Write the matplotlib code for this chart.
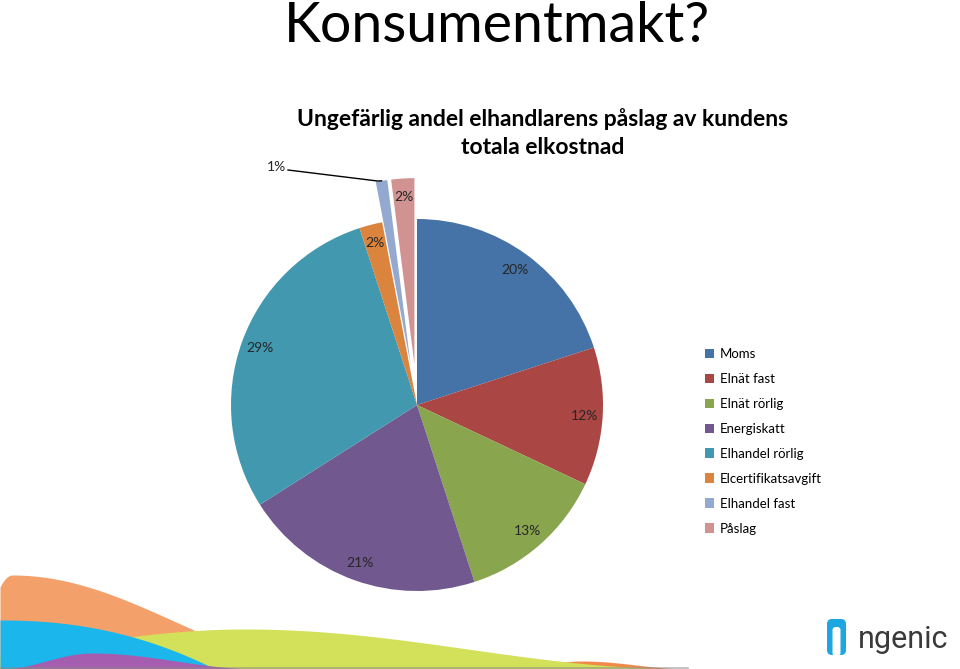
import matplotlib.pyplot as plt
import numpy as np
from matplotlib.patches import FancyBboxPatch

# data
labels = ['Moms', 'Elnät fast', 'Elnät rörlig', 'Energiskatt', 'Elhandel rörlig',
          'Elcertifikatsavgift', 'Elhandel fast', 'Påslag']
shares = [20, 12, 13, 21, 29, 2, 1, 2]
colors = ['#4572A7', '#AA4643', '#89A54E', '#71588F', '#4198AF',
          '#DB843D', '#93A9CF', '#D19392']
pulled = [0, 0, 0, 0, 0, 0, 0.22, 0.22]

plt.rcParams['font.family'] = ['Lato', 'DejaVu Sans']

W, H = 960, 669
fig = plt.figure(figsize=(9.6, 6.69), dpi=100)
ax = fig.add_axes([0, 0, 1, 1])

cx, cy, r = 417, H - 405, 186
wedges, texts, autotexts = ax.pie(
    shares, colors=colors, explode=[p * r for p in pulled],
    startangle=90, counterclock=False, center=(cx, cy), radius=r,
    autopct='%d%%', pctdistance=0.9,
    textprops=dict(fontsize=10, color='#262626'))

# move the 1% label outside with a leader line
w = wedges[6]
mid = np.deg2rad((w.theta1 + w.theta2) / 2)
tip = (w.center[0] + w.r * np.cos(mid), w.center[1] + w.r * np.sin(mid))
lab = autotexts[6]
lab.set_position((286, H - 167))
lab.set_ha('right')
ax.plot([288, tip[0] - 4, tip[0]], [H - 170, H - 181, tip[1]], color='black', lw=1)

ax.set_xlim(0, W)
ax.set_ylim(0, H)
ax.set_aspect('equal')
ax.axis('off')

# slide title and chart title
ax.text(284, H - 42, 'Konsumentmakt?', fontsize=40, color='black', ha='left', va='baseline')
ax.text(543, H - 133, 'Ungefärlig andel elhandlarens påslag av kundens\ntotala elkostnad',
        fontsize=16.5, fontweight='bold', ha='center', va='center', linespacing=1.45)

# legend
leg = ax.legend(wedges, labels, loc='upper left', bbox_to_anchor=(705 / W, 1 - 348 / H),
                frameon=False, fontsize=9.5, handlelength=0.7, handleheight=0.7,
                handletextpad=0.45, labelspacing=0.98, borderpad=0, borderaxespad=0)

# decorative waves at the bottom of the slide
x = np.linspace(0, 700, 400)

def wave(x, x0, x1, xp, ytop):
    y = np.full_like(x, float(H))
    left = (x >= x0) & (x <= xp)
    right = (x > xp) & (x <= x1)
    y[left] = ytop + (H - ytop) * (1 - np.cos(np.pi * (xp - x[left]) / (xp - x0 + 1e-9))) / 2
    y[right] = ytop + (H - ytop) * (1 - np.cos(np.pi * (x[right] - xp) / (x1 - xp))) / 2
    return H - y

ax.fill_between(x, 0, wave(x, -40, 340, 12, 575), color='#F4A06A', lw=0, zorder=0.5)
ax.fill_between(x, 0, wave(x, -150, 690, 245, 629), color='#D2E05A', lw=0, zorder=0.6)
ax.fill_between(x, 0, wave(x, 500, 690, 582, 661), color='#F08A4B', lw=0, zorder=0.55)
xc = np.linspace(0, 215, 200)
yc = 620 + 49 * (xc / 215) ** 2.2
ax.fill_between(xc, 0, H - yc, color='#1BB6EC', lw=0, zorder=0.7)
ax.fill_between(x, 0, wave(x, 0, 260, 92, 653), color='#A55DB0', lw=0, zorder=0.8)
ax.plot([0, 688], [H - 667.5, H - 667.5], color='#8A8A8A', lw=1.2, alpha=0.6, zorder=0.9)

# ngenic logo
ax.add_patch(FancyBboxPatch((827, H - 655), 19, 36, boxstyle='round,pad=0,rounding_size=5',
                            fc='#1EA6E0', ec='none'))
ax.add_patch(FancyBboxPatch((832.5, H - 656), 8, 29, boxstyle='round,pad=0,rounding_size=3',
                            fc='white', ec='none'))
ax.text(858, H - 648, 'ngenic', fontsize=22, color='#3A3A3A', family=['Roboto', 'DejaVu Sans'],
        ha='left', va='baseline')

fig.savefig('out.png', dpi=100)
